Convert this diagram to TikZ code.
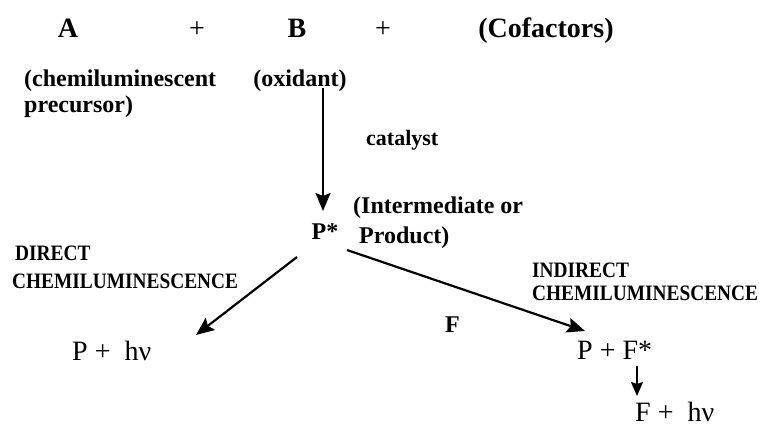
\documentclass[tikz,border=0pt]{standalone}
\usepackage{fontspec}
\setmainfont{Liberation Serif}
\usetikzlibrary{arrows.meta}
\begin{document}
\begin{tikzpicture}[x=1pt,y=-1pt,
  lbl/.style={inner sep=0pt,font=\fontsize{24}{26}\selectfont\bfseries},
  big/.style={inner sep=0pt,font=\fontsize{28}{30}\selectfont\bfseries},
  plus/.style={inner sep=0pt,font=\fontsize{28}{30}\selectfont},
  capslbl/.style={inner sep=0pt,font=\fontsize{22}{24}\selectfont\bfseries,xscale=0.88,transform shape},
  chem/.style={inner sep=0pt,font=\fontsize{28}{30}\selectfont},
  arr/.style={line width=2.2pt,-{Stealth[length=18pt,width=15pt,inset=3pt]}}]
\useasboundingbox (0,0) rectangle (761,426);
\fill[white] (0,0) rectangle (761,426);
% top row
\node[big,anchor=base] (A) at (68,37) {A};
\node[plus,anchor=base] (p1) at (197,37) {+};
\node[big,anchor=base] (B) at (297,37) {B};
\node[plus,anchor=base] (p2) at (383,37) {+};
\node[big,anchor=base] (cof) at (546,37) {(Cofactors)};
% second row
\node[lbl,anchor=base west] (chemi) at (24,86) {(chemiluminescent};
\node[lbl,anchor=base west] (prec) at (24,112) {precursor)};
\node[lbl,anchor=base] (ox) at (300,86) {(oxidant)};
\node[lbl,anchor=base west,font=\fontsize{22}{24}\selectfont\bfseries] (cat) at (366,145) {catalyst};
% P*
\node[lbl,anchor=base] (Ps) at (325,239) {P*};
\node[lbl,anchor=base west] (int1) at (353,213) {(Intermediate or};
\node[lbl,anchor=base west] (int2) at (359,243) {Product)};
% direct
\node[capslbl,anchor=base west] (d1) at (15,260) {DIRECT};
\node[capslbl,anchor=base west] (d2) at (12,288) {CHEMILUMINESCENCE};
\node[chem,anchor=base west] (Phv) at (72,360) {P +\ \ hν};
% indirect
\node[capslbl,anchor=base west] (i1) at (532,277) {INDIRECT};
\node[capslbl,anchor=base west] (i2) at (532,300) {CHEMILUMINESCENCE};
\node[lbl,anchor=base west] (F) at (445,332) {F};
\node[chem,anchor=base west] (PF) at (577,359) {P + F*};
\node[chem,anchor=base west] (Fhv) at (635,421) {F +\ \ hν};
% arrows
\coordinate (s0) at (323,88);
\coordinate (e0) at (323,211);
\coordinate (s1) at (297,257);
\coordinate (e1) at (196,335);
\coordinate (s2) at (347,250);
\coordinate (e2) at (585,331);
\coordinate (s3) at (637,366);
\coordinate (e3) at (637,396);
\draw[arr] (s0) -- (e0);
\draw[arr] (s1) -- (e1);
\draw[arr] (s2) -- (e2);
\draw[arr,-{Stealth[length=14pt,width=12pt,inset=2pt]}] (s3) -- (e3);
\end{tikzpicture}
\end{document}
